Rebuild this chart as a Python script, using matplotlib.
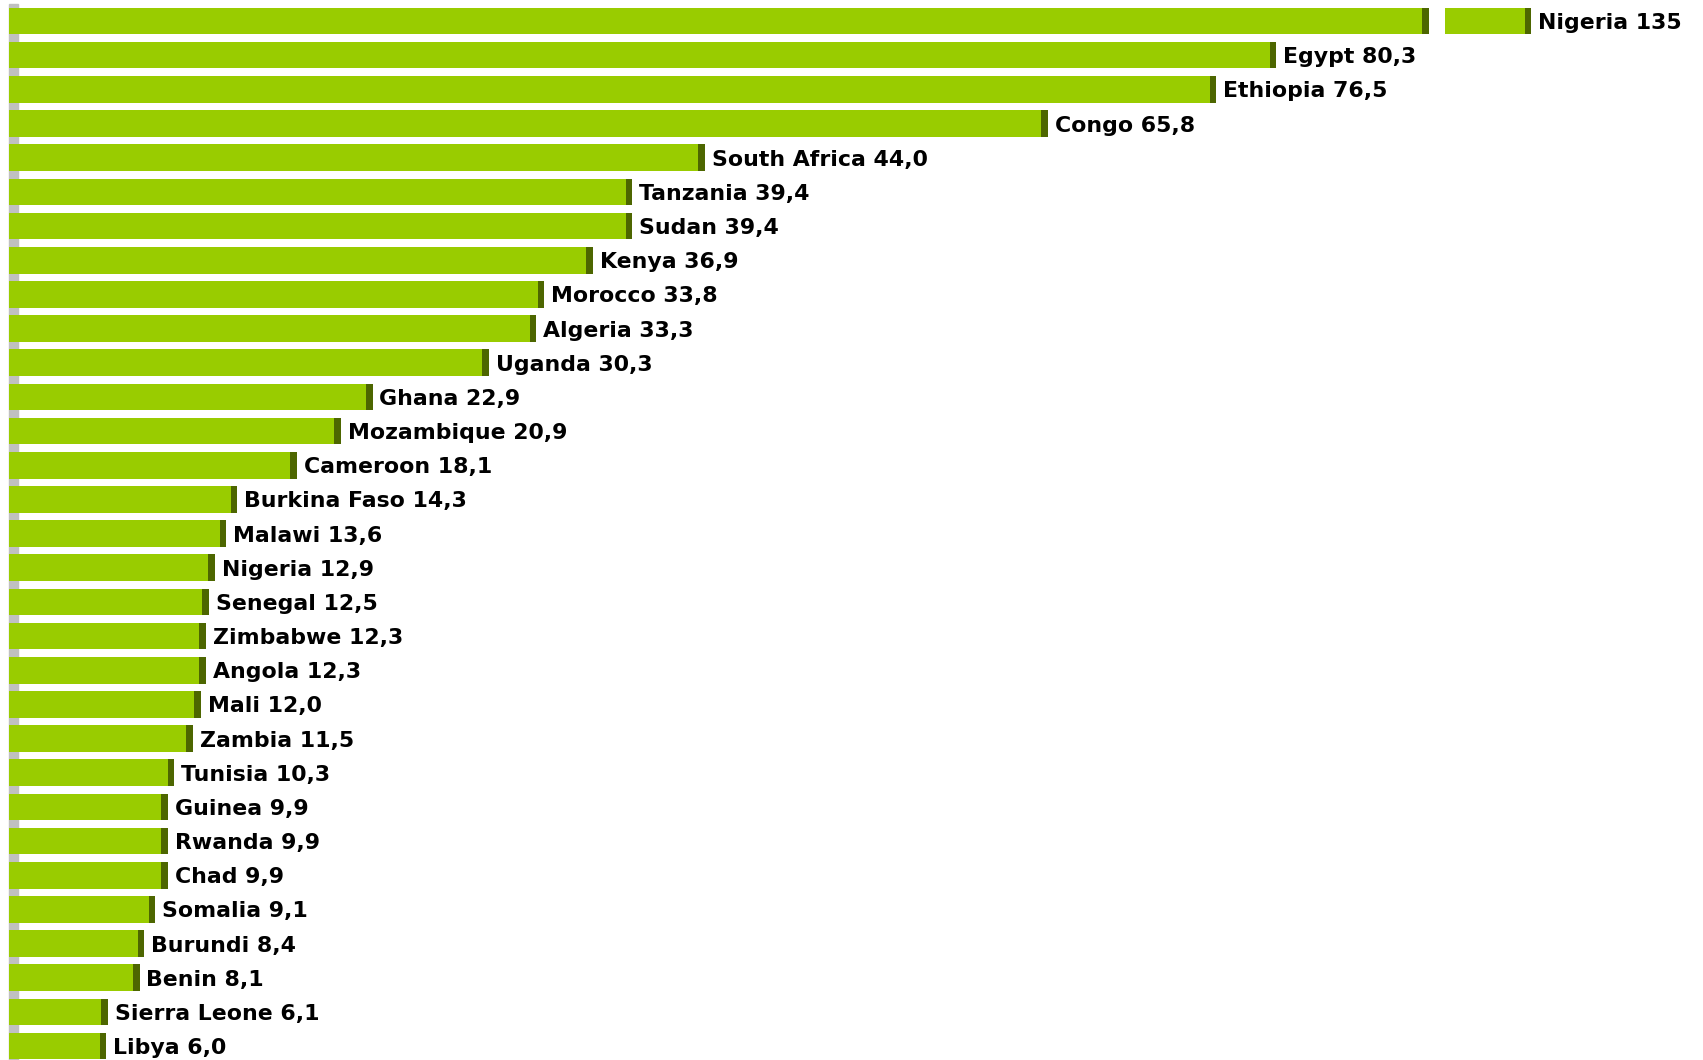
import numpy as np
import matplotlib
matplotlib.use("Agg")
import matplotlib.pyplot as plt
from matplotlib.patches import Rectangle

countries = ["Nigeria", "Egypt", "Ethiopia", "Congo", "South Africa", "Tanzania",
             "Sudan", "Kenya", "Morocco", "Algeria", "Uganda", "Ghana", "Mozambique",
             "Cameroon", "Burkina Faso", "Malawi", "Nigeria", "Senegal", "Zimbabwe",
             "Angola", "Mali", "Zambia", "Tunisia", "Guinea", "Rwanda", "Chad",
             "Somalia", "Burundi", "Benin", "Sierra Leone", "Libya"]
values = [135, 80.3, 76.5, 65.8, 44.0, 39.4, 39.4, 36.9, 33.8, 33.3, 30.3, 22.9, 20.9,
          18.1, 14.3, 13.6, 12.9, 12.5, 12.3, 12.3, 12.0, 11.5, 10.3, 9.9, 9.9, 9.9,
          9.1, 8.4, 8.1, 6.1, 6.0]

BAR = "#99cc00"
CAP = "#4d6600"
WALL = "#c0c0c0"
BREAK = 90          # axis is broken here, the long bar continues on a small second axis
CAP_W = 0.42
H = 0.78

W, Hpx = 1703, 1060
fig = plt.figure(figsize=(W / 100, Hpx / 100), dpi=100)

def px_axes(x0, x1, top, bottom):
    return fig.add_axes([x0 / W, (Hpx - bottom) / Hpx, (x1 - x0) / W, (bottom - top) / Hpx])

n = len(values)
y = np.arange(n)
vals = np.array(values)

# grey wall on the left
fig.add_artist(Rectangle((9 / W, 0), 9 / W, (Hpx - 4) / Hpx, transform=fig.transFigure,
                         color=WALL, zorder=-1))

ax = px_axes(9, 1429, 3.9, 1063.2)
ax2 = px_axes(1445, 1531, 3.9, 1063.2)
for a in (ax, ax2):
    a.set_facecolor("none")
    a.set_ylim(n - 0.5, -0.5)
    a.axis("off")

x0 = -0.19
ax.set_xlim(x0, BREAK)
ax2.set_xlim(135 - 5.46, 135)

shown = np.minimum(vals, BREAK)
ax.barh(y, shown - x0, left=x0, height=H, color=BAR, linewidth=0)
ax.barh(y, CAP_W, left=shown - CAP_W, height=H, color=CAP, linewidth=0)

big = vals > BREAK
ax2.barh(y[big], vals[big] - 129, left=129, height=H, color=BAR, linewidth=0)
ax2.barh(y[big], CAP_W * 5.46 / 90 * 16, left=vals[big] - CAP_W * 5.46 / 90 * 16,
         height=H, color=CAP, linewidth=0)

def fmt(v):
    if v >= 100 and v == int(v):
        return str(int(v))
    return f"{v:.1f}".replace(".", ",")

for i, (name, v) in enumerate(zip(countries, values)):
    target = ax2 if v > BREAK else ax
    target.annotate(f"{name} {fmt(v)}", xy=(v, i), xytext=(5, -5.8),
                    textcoords="offset points", ha="left", va="baseline",
                    fontsize=15.8, fontweight="bold", family="DejaVu Sans",
                    color="black", annotation_clip=False)

fig.savefig("out.png", dpi=100, facecolor="white")
